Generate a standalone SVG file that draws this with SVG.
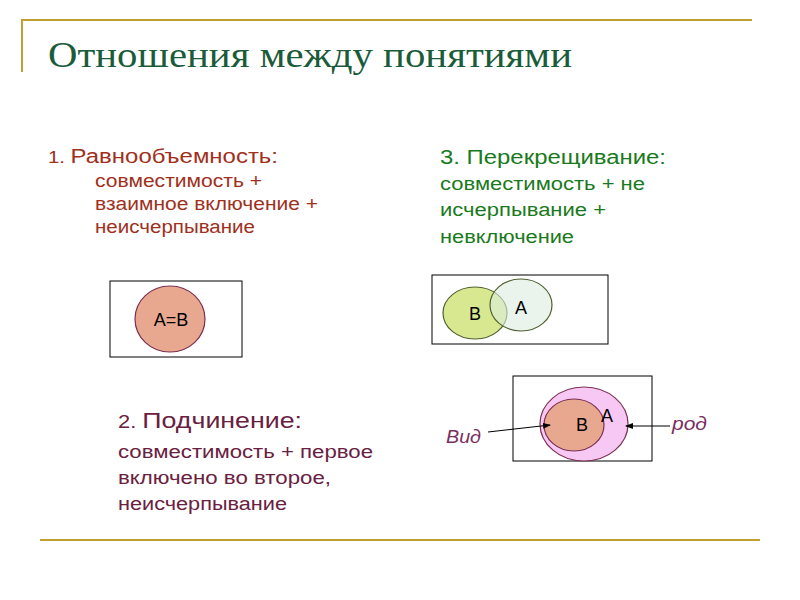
<svg xmlns="http://www.w3.org/2000/svg" width="800" height="600" viewBox="0 0 800 600">
<defs><marker id="ar" markerWidth="8" markerHeight="8" refX="7" refY="4" orient="auto" markerUnits="userSpaceOnUse"><path d="M0,1 L8,4 L0,7 Z" fill="#000"/></marker></defs>
<style>
.t{font-family:"Liberation Sans",Arial,sans-serif;font-size:18px}
.box{fill:#fff;stroke:#000;stroke-width:1}
.e{stroke:#7a3050;stroke-width:1.2}
</style>
<rect width="800" height="600" fill="#fff"/>
<g id="frame" stroke="#c0a030" stroke-width="2">
<line x1="21" y1="20" x2="752" y2="20"/><line x1="22" y1="20" x2="22" y2="72"/>
<line x1="40" y1="540" x2="760" y2="540"/>
</g>
<text x="48" y="67" font-family="Liberation Serif,serif" font-size="36" fill="#1a5c3a" textLength="524" lengthAdjust="spacingAndGlyphs">Отношения между понятиями</text>
<g id="t1" class="t" fill="#a0301c" lengthAdjust="spacingAndGlyphs">
<text x="48" y="163" font-size="20" textLength="230" lengthAdjust="spacingAndGlyphs"><tspan font-size="17">1. </tspan>Равнообъемность:</text>
<text x="95" y="187" textLength="167" lengthAdjust="spacingAndGlyphs">совместимость +</text>
<text x="95" y="210" textLength="223" lengthAdjust="spacingAndGlyphs">взаимное включение +</text>
<text x="95" y="233" textLength="160" lengthAdjust="spacingAndGlyphs">неисчерпывание</text>
</g>
<g id="t3" class="t" fill="#1a7a20">
<text x="440" y="164" font-size="20" textLength="226" lengthAdjust="spacingAndGlyphs">3. Перекрещивание:</text>
<text x="440" y="190" textLength="205" lengthAdjust="spacingAndGlyphs">совместимость + не</text>
<text x="440" y="216" textLength="166" lengthAdjust="spacingAndGlyphs">исчерпывание +</text>
<text x="440" y="243" textLength="134" lengthAdjust="spacingAndGlyphs">невключение</text>
</g>
<g id="t2" class="t" fill="#6a2040">
<text x="118" y="428" textLength="184" lengthAdjust="spacingAndGlyphs"><tspan font-size="18">2. </tspan><tspan font-size="22">Подчинение:</tspan></text>
<text x="118" y="458" textLength="255" lengthAdjust="spacingAndGlyphs">совместимость + первое</text>
<text x="118" y="484" textLength="213" lengthAdjust="spacingAndGlyphs">включено во второе,</text>
<text x="118" y="510" textLength="169" lengthAdjust="spacingAndGlyphs">неисчерпывание</text>
</g>
<g id="n1"><rect class="box" x="110" y="281" width="132" height="76"/>
<ellipse class="e" cx="170" cy="319" rx="35" ry="33" fill="#e8a890"/>
<text class="t" x="171" y="326" text-anchor="middle" font-size="17">A=B</text></g>
<g id="n3"><rect class="box" x="432" y="275" width="176" height="69"/>
<ellipse cx="475" cy="313" rx="32" ry="26" fill="#d8e890" stroke="#506030" stroke-width="1.2"/>
<ellipse cx="521" cy="305" rx="31" ry="26" fill="#dcede0" fill-opacity="0.6" stroke="#506030" stroke-width="1.2"/>
<text class="t" x="469" y="320">B</text><text class="t" x="515" y="314">A</text></g>
<g id="n2"><rect class="box" x="513" y="376" width="139" height="85"/>
<ellipse class="e" cx="584" cy="424" rx="44" ry="37" fill="#f8c8f4"/>
<ellipse class="e" cx="574" cy="425" rx="30" ry="26" fill="#e8a890"/>
<text class="t" x="576" y="431">B</text><text class="t" x="601" y="422" font-size="19">A</text></g>
<g id="connectors" stroke="#000" stroke-width="1">
<line x1="488" y1="432" x2="550" y2="425" marker-end="url(#ar)"/>
<line x1="670" y1="426" x2="626" y2="426" marker-end="url(#ar)"/>
</g>
<g class="t" fill="#7a3060" font-style="italic" font-size="19">
<text x="446" y="443" textLength="35" lengthAdjust="spacingAndGlyphs">Вид</text><text x="672" y="430" textLength="35" lengthAdjust="spacingAndGlyphs">род</text></g>
</svg>
